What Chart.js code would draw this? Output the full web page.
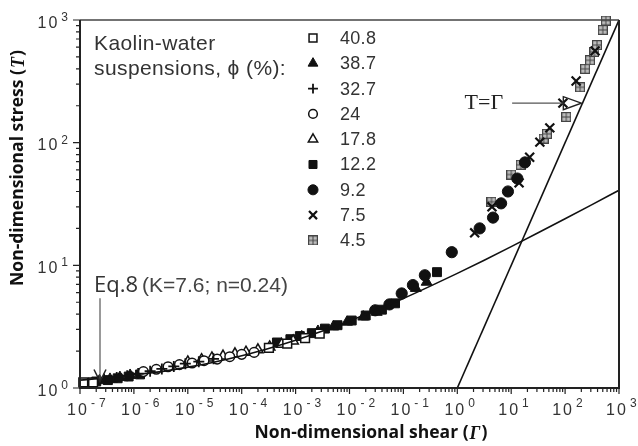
<!DOCTYPE html>
<html lang="en">
<head>
<meta charset="UTF-8">
<title>Kaolin-water suspensions</title>
<script src="https://cdn.jsdelivr.net/npm/chart.js"></script>
<style>
  body { margin: 0; background: #fff; }
  #wrap { width: 638px; height: 446px; }
</style>
</head>
<body>
<div id="wrap"><canvas id="myChart" width="638" height="446"></canvas></div>
<script>
// solids fraction phi (%) in legend order
const phiLabels = ["40.8", "38.7", "32.7", "24", "17.8", "12.2", "9.2", "7.5", "4.5"];

// measured points, [shear Γ, stress T]
const phi408 = [[1.15e-7, 1.11], [1.75e-7, 1.11], [3.2e-4, 2.12], [7e-4, 2.3], [1.5e-3, 2.55], [2.8e-3, 2.78]];
const phi387 = [[2.3e-7, 1.15], [3.6e-7, 1.18], [5.5e-7, 1.22], [8.5e-7, 1.27], [1.3e-3, 2.62], [2.6e-3, 2.9],
                [5e-3, 3.15], [9e-3, 3.45], [1.8e-2, 3.8], [3.2e-2, 4.15], [0.17, 6.5], [0.27, 7.3]];
const phi327 = [[2.8e-7, 1.18], [4.8e-7, 1.22], [7.5e-7, 1.26], [1.2e-6, 1.31], [2e-6, 1.37], [3.3e-6, 1.43],
                [5.5e-6, 1.5], [9e-6, 1.58], [1.6e-5, 1.64], [3e-5, 1.73]];
const phi24  = [[1.5e-6, 1.36], [2.6e-6, 1.42], [4.3e-6, 1.49], [7e-6, 1.55], [1.2e-5, 1.6], [2e-5, 1.67],
                [3.5e-5, 1.72], [6e-5, 1.8], [1e-4, 1.88], [1.7e-4, 1.95]];
const phi178 = [[1e-5, 1.63], [1.8e-5, 1.7], [2.8e-5, 1.76], [4.5e-5, 1.82], [7.5e-5, 1.9], [1.2e-4, 1.96],
                [2e-4, 2.05], [3.3e-4, 2.16], [5.5e-4, 2.27], [9e-4, 2.42]];
const phi122 = [[2e-7, 1.13], [3.3e-7, 1.16], [5e-7, 1.2], [8e-7, 1.24], [1.3e-6, 1.29], [4.5e-4, 2.35],
                [8e-4, 2.5], [1.2e-3, 2.65], [2e-3, 2.8], [3.5e-3, 3.05], [6e-3, 3.25], [1.1e-2, 3.55],
                [2e-2, 3.9], [4e-2, 4.35], [7e-2, 4.9], [0.42, 8.8]];
const phi92  = [[3e-2, 4.3], [5.5e-2, 4.8], [9.3e-2, 5.9], [0.15, 6.9], [0.25, 8.3], [0.79, 12.8], [2.6, 20],
                [4.6, 24.5], [6.5, 32], [8.7, 40], [13, 51], [18, 69]];
const phi75  = [[2.1, 18.4], [4.4, 30], [14, 47], [22, 76], [34, 101], [52, 132], [91, 210], [160, 318], [360, 560]];
const phi45  = [[4.3, 33], [10, 55], [15, 66], [40, 108], [46, 118], [105, 162], [190, 283], [235, 400],
                [290, 470], [350, 550], [390, 625], [500, 830], [570, 990]];

// Eq.8 curve (K=7.6; n=0.24)
const eq8Shear  = [1e-7, 3.16e-7, 1e-6, 3.16e-6, 1e-5, 3.16e-5, 1e-4, 3.16e-4, 1e-3, 3.16e-3, 1e-2,
                   3.16e-2, 0.1, 0.316, 1, 3.16, 10, 31.6, 100, 316, 1000];
const eq8Stress = [1.16, 1.21, 1.28, 1.36, 1.48, 1.63, 1.83, 2.10, 2.45, 2.91, 3.52,
                   4.32, 5.37, 6.77, 8.60, 11.02, 14.21, 18.41, 23.96, 31.26, 40.89];

// T = Γ line
const unityShear  = [1, 1000];
const unityStress = [1, 1000];

// decade exponents for tick labels
const xTickExp = [-7, -6, -5, -4, -3, -2, -1, 0, 1, 2, 3];
const yTickExp = [0, 1, 2, 3];

const INK = "#111";

// little grey square with a cross inside, used for 4.5 %
function gridSquare() {
    const c = document.createElement("canvas");
    c.width = 10; c.height = 10;
    const g = c.getContext("2d");
    g.fillStyle = "#bdbdbd";
    g.fillRect(0, 0, 10, 10);
    g.strokeStyle = "#444";
    g.lineWidth = 1.2;
    g.strokeRect(0.6, 0.6, 8.8, 8.8);
    g.lineWidth = 1;
    g.beginPath();
    g.moveTo(5, 0.5); g.lineTo(5, 9.5);
    g.moveTo(0.5, 5); g.lineTo(9.5, 5);
    g.stroke();
    return c;
}
const gridMark = gridSquare();

// marker style for each series, same order as phiLabels
const markers = [
    { pointStyle: "rect",     radius: 6.2, fill: "#fff", width: 1.5 },
    { pointStyle: "triangle", radius: 6.3, fill: INK,    width: 1 },
    { pointStyle: "cross",    radius: 5.5, fill: INK,    width: 1.8 },
    { pointStyle: "circle",   radius: 4.8, fill: "#fff", width: 1.5 },
    { pointStyle: "triangle", radius: 6,   fill: "#fff", width: 1.5 },
    { pointStyle: "rect",     radius: 6.3, fill: INK,    width: 1 },
    { pointStyle: "circle",   radius: 5.6, fill: INK,    width: 1 },
    { pointStyle: "crossRot", radius: 6.3, fill: INK,    width: 2.2 },
    { pointStyle: gridMark,   radius: 5,   fill: INK,    width: 1 }
];
const seriesData = [phi408, phi387, phi327, phi24, phi178, phi122, phi92, phi75, phi45];

const toXY = arr => arr.map(p => ({ x: p[0], y: p[1] }));
const pair = (xs, ys) => xs.map((v, i) => ({ x: v, y: ys[i] }));

const datasets = [
    {
        label: "Eq.8", data: pair(eq8Shear, eq8Stress), showLine: true,
        borderColor: INK, borderWidth: 1.6, pointRadius: 0, cubicInterpolationMode: "monotone"
    },
    {
        label: "T=Γ", data: pair(unityShear, unityStress), showLine: true,
        borderColor: INK, borderWidth: 1.6, pointRadius: 0
    }
];
seriesData.forEach((d, i) => {
    const m = markers[i];
    datasets.push({
        label: phiLabels[i],
        data: toXY(d),
        showLine: false,
        pointStyle: m.pointStyle,
        pointRadius: m.radius,
        backgroundColor: m.fill,
        borderColor: INK,
        borderWidth: m.width,
        clip: false
    });
});

function drawPow(ctx, e, x, y, side) {
    // x/y: reference point; side "x" = under bottom axis, "y" = left of axis
    ctx.fillStyle = "#333";
    ctx.textBaseline = "alphabetic";
    ctx.textAlign = "left";
    ctx.letterSpacing = "2px";
    ctx.font = "16px 'Liberation Sans', Arial, sans-serif";
    const baseW = ctx.measureText("10").width;
    ctx.font = "12px 'Liberation Sans', Arial, sans-serif";
    const expStr = String(Math.abs(e));
    const dashW = e < 0 ? ctx.measureText("-").width + 2 : 0;
    const expW = ctx.measureText(expStr).width + dashW;
    let bx, by, ex, ey;
    if (side === "x") {
        bx = x - 2 - baseW / 2; by = 415;
        ex = bx + baseW + 2;    ey = 407;
    } else {
        ex = 70 - expW;         ey = y + 1;
        bx = ex - 2 - baseW;    by = y + 7.5;
    }
    ctx.font = "16px 'Liberation Sans', Arial, sans-serif";
    ctx.fillText("10", bx, by);
    ctx.font = "12px 'Liberation Sans', Arial, sans-serif";
    if (e < 0) ctx.fillText("-", ex, ey);
    ctx.fillText(expStr, ex + dashW, ey);
    ctx.letterSpacing = "0px";
}

const frame = {
    id: "frame",
    afterDraw(chart) {
        const ctx = chart.ctx;
        const a = chart.chartArea;
        const xs = chart.scales.x, ys = chart.scales.y;
        ctx.save();

        // box
        ctx.strokeStyle = "#444";
        ctx.lineWidth = 1.5;
        ctx.beginPath();
        ctx.moveTo(a.left, a.top); ctx.lineTo(a.right, a.top);
        ctx.stroke();
        ctx.strokeStyle = "#222";
        ctx.lineWidth = 2;
        ctx.beginPath();
        ctx.moveTo(a.right, a.top); ctx.lineTo(a.right, a.bottom);
        ctx.lineTo(a.left, a.bottom); ctx.lineTo(a.left, a.top);
        ctx.stroke();

        // log ticks, pointing outwards
        ctx.lineWidth = 1.2;
        ctx.strokeStyle = "#222";
        ctx.beginPath();
        for (let k = -7; k <= 3; k++) {
            for (let m = 1; m <= 9; m++) {
                if (k === 3 && m > 1) break;
                const px = xs.getPixelForValue(m * Math.pow(10, k));
                const len = m === 1 ? 6 : 4;
                ctx.moveTo(px, a.bottom); ctx.lineTo(px, a.bottom + len);
            }
        }
        for (let k = 0; k <= 3; k++) {
            for (let m = 1; m <= 9; m++) {
                if (k === 3 && m > 1) break;
                const py = ys.getPixelForValue(m * Math.pow(10, k));
                const len = m === 1 ? 7 : 4;
                ctx.moveTo(a.left, py); ctx.lineTo(a.left - len, py);
            }
        }
        ctx.stroke();

        // tick labels
        xTickExp.forEach(e => drawPow(ctx, e, xs.getPixelForValue(Math.pow(10, e)), 0, "x"));
        yTickExp.forEach(e => drawPow(ctx, e, 0, ys.getPixelForValue(Math.pow(10, e)), "y"));

        // axis titles
        const titleFont = "bold 17.5px 'Open Sans', sans-serif";
        const greekFont = "italic bold 18px 'Liberation Serif', serif";
        ctx.fillStyle = INK;
        ctx.textBaseline = "middle";
        ctx.textAlign = "left";
        const xt1 = "Non-dimensional shear (";
        ctx.font = titleFont;
        const w1 = ctx.measureText(xt1).width;
        const w2 = ctx.measureText(")").width;
        ctx.font = greekFont;
        const wg = ctx.measureText("Γ").width;
        let sx = 371 - (w1 + wg + w2 + 2) / 2;
        ctx.font = titleFont;
        ctx.fillText(xt1, sx, 433);
        ctx.font = greekFont;
        ctx.fillText("Γ", sx + w1 + 1, 434);
        ctx.font = titleFont;
        ctx.fillText(")", sx + w1 + wg + 2, 433);

        ctx.save();
        ctx.translate(18, 168);
        ctx.rotate(-Math.PI / 2);
        const yt1 = "Non-dimensional stress (";
        const w3 = ctx.measureText(yt1).width;
        ctx.font = greekFont;
        const wt = ctx.measureText("T").width;
        sx = -(w3 + wt + w2 + 2) / 2;
        ctx.font = titleFont;
        ctx.fillText(yt1, sx, 0);
        ctx.font = greekFont;
        ctx.fillText("T", sx + w3 + 1, 1);
        ctx.font = titleFont;
        ctx.fillText(")", sx + w3 + wt + 2, 0);
        ctx.restore();

        // legend
        ctx.fillStyle = "#333";
        ctx.textAlign = "left";
        ctx.textBaseline = "alphabetic";
        ctx.font = "21px 'Liberation Sans', Arial, sans-serif";
        ctx.letterSpacing = "0.4px";
        ctx.fillText("Kaolin-water", 94, 50);
        ctx.fillText("suspensions, \u03d5 (%):", 94, 75);
        ctx.letterSpacing = "0.3px";
        ctx.textBaseline = "middle";
        ctx.font = "18px 'Liberation Sans', Arial, sans-serif";
        phiLabels.forEach((lab, i) => {
            const y = 39 + i * 25.3;
            const m = markers[i];
            ctx.fillStyle = m.fill;
            ctx.strokeStyle = INK;
            ctx.lineWidth = m.width;
            Chart.helpers.drawPoint(ctx, { pointStyle: m.pointStyle, radius: m.radius * 0.9, rotation: 0, borderWidth: m.width }, 313, y - 1);
            ctx.fillStyle = "#333";
            ctx.fillText(lab, 340, y);
        });
        ctx.letterSpacing = "0px";

        // Eq.8 label and its arrow
        const ax = xs.getPixelForValue(2.35e-7);
        const tipY = ys.getPixelForValue(1.13);
        const topY = ys.getPixelForValue(5.4);
        ctx.strokeStyle = "#555";
        ctx.lineWidth = 1.2;
        ctx.beginPath();
        ctx.moveTo(ax, topY); ctx.lineTo(ax, tipY);
        ctx.stroke();
        ctx.strokeStyle = "#222";
        ctx.lineWidth = 1.5;
        ctx.beginPath();
        ctx.moveTo(ax - 6, tipY - 12); ctx.lineTo(ax, tipY); ctx.lineTo(ax + 6, tipY - 12);
        ctx.stroke();
        ctx.textBaseline = "alphabetic";
        ctx.fillStyle = "#333";
        ctx.font = "22px 'Open Sans', sans-serif";
        ctx.fillText("Eq.8", 94, 292);
        ctx.fillStyle = "#444";
        ctx.font = "21px 'Liberation Sans', Arial, sans-serif";
        ctx.fillText("(K=7.6; n=0.24)", 142, 292);

        // T=Γ label with open arrow onto the line
        const tipX = xs.getPixelForValue(200);
        const ty = ys.getPixelForValue(210);
        const startX = xs.getPixelForValue(10.4);
        ctx.strokeStyle = "#555";
        ctx.lineWidth = 1.2;
        ctx.beginPath();
        ctx.moveTo(startX, ty); ctx.lineTo(tipX - 18, ty);
        ctx.stroke();
        ctx.strokeStyle = "#222";
        ctx.lineWidth = 1.4;
        ctx.beginPath();
        ctx.moveTo(tipX, ty); ctx.lineTo(tipX - 18, ty - 6.5); ctx.lineTo(tipX - 18, ty + 6.5); ctx.closePath();
        ctx.stroke();
        ctx.fillStyle = "#222";
        ctx.font = "22px 'Liberation Serif', 'Times New Roman', serif";
        ctx.textAlign = "right";
        ctx.textBaseline = "middle";
        ctx.fillText("T=\u0393", startX - 9, ty);

        ctx.restore();
    }
};

new Chart(document.getElementById("myChart"), {
    type: "scatter",
    data: { datasets: datasets },
    options: {
        responsive: false,
        animation: false,
        layout: { padding: { left: 80, top: 20, right: 19, bottom: 58 } },
        plugins: { legend: { display: false }, tooltip: { enabled: false } },
        scales: {
            x: { type: "logarithmic", min: 1e-7, max: 1e3, display: false },
            y: { type: "logarithmic", min: 1, max: 1e3, display: false }
        }
    },
    plugins: [frame]
});
</script>
</body>
</html>
